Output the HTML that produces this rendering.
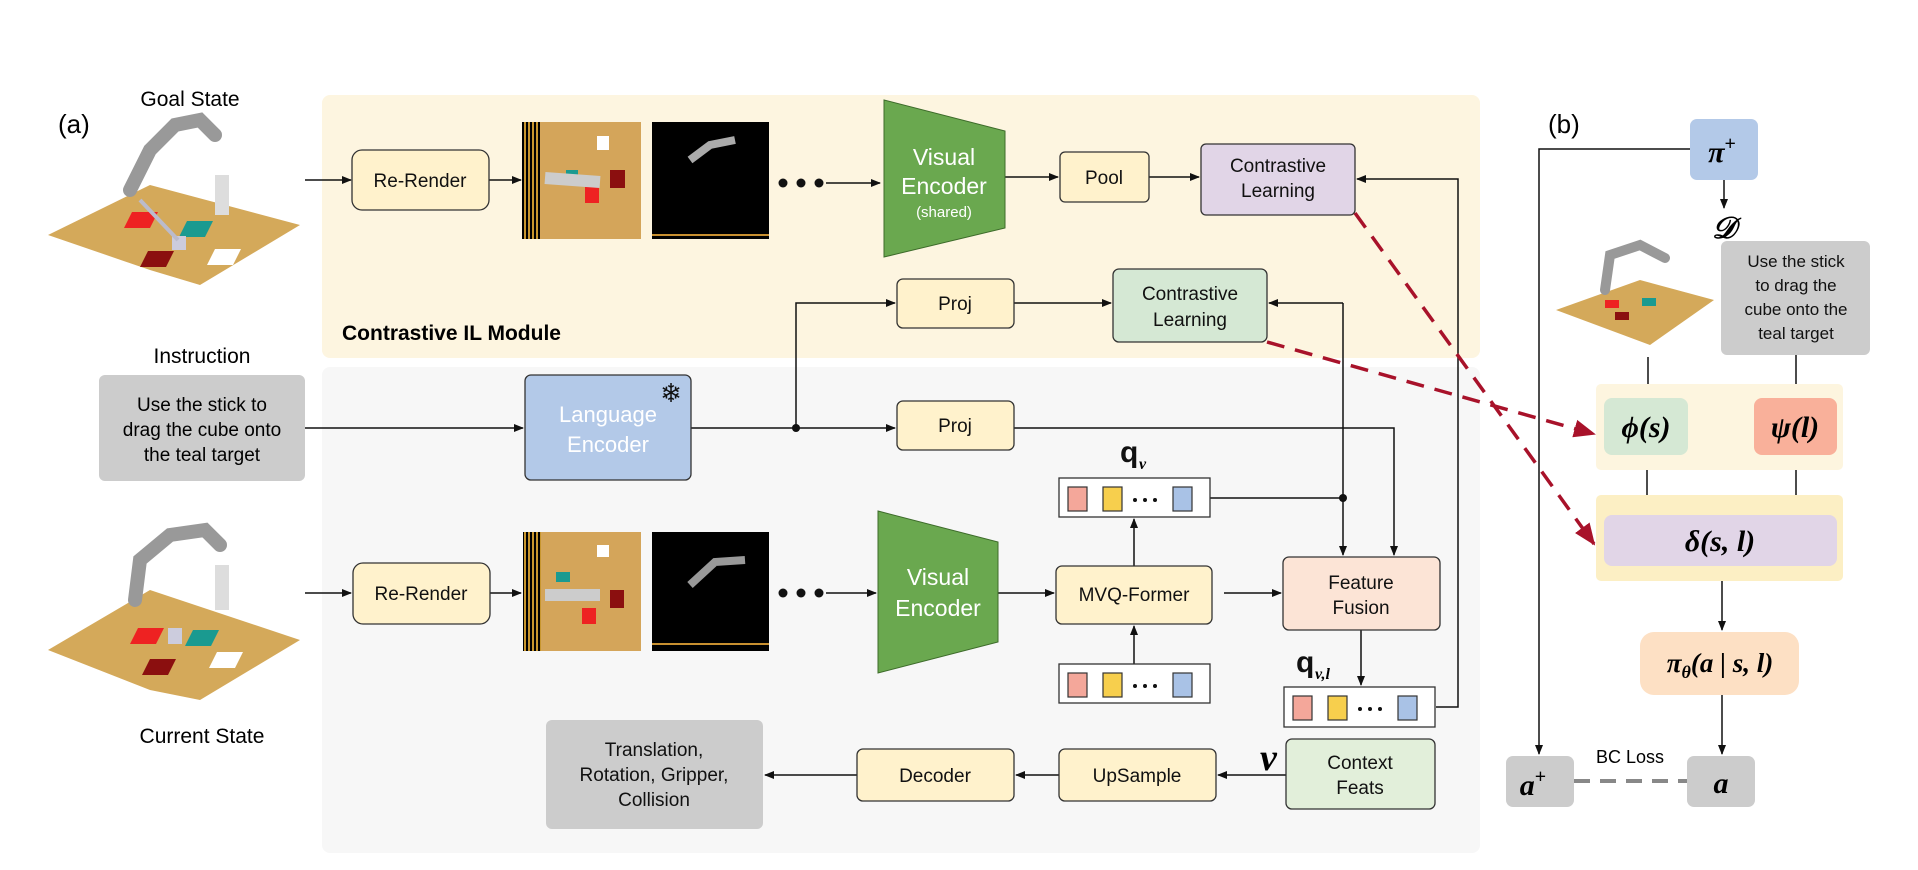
<!DOCTYPE html>
<html><head><meta charset="utf-8">
<style>
html,body{margin:0;padding:0;background:#fff;}
svg{display:block;}
text{font-family:"Liberation Sans",sans-serif;}
.m{font-family:"Liberation Serif",serif;font-style:italic;font-weight:bold;}
</style></head>
<body>
<svg width="1918" height="870" viewBox="0 0 1918 870" xmlns="http://www.w3.org/2000/svg">
<defs>
<marker id="ar" markerWidth="10" markerHeight="10" refX="9" refY="5" orient="auto" markerUnits="userSpaceOnUse"><path d="M0,1 L10,5 L0,9 z" fill="#111"/></marker>
<marker id="rr" markerWidth="22" markerHeight="22" refX="20" refY="11" orient="auto" markerUnits="userSpaceOnUse"><path d="M0,2 L22,11 L0,20 z" fill="#a8122a"/></marker>
<pattern id="hatch" width="4" height="4" patternUnits="userSpaceOnUse"><rect width="4" height="4" fill="#000"/><rect width="2" height="4" fill="#c8962e"/></pattern>
</defs>

<rect x="322" y="95" width="1158" height="263" rx="8" fill="#fdf5e0"/>
<rect x="322" y="367" width="1158" height="486" rx="8" fill="#f7f7f7"/>

<text x="58" y="133" font-family="Liberation Serif" font-size="26">(a)</text>
<text x="1548" y="133" font-family="Liberation Serif" font-size="26">(b)</text>
<text x="190" y="106" font-size="21" text-anchor="middle">Goal State</text>
<text x="202" y="363" font-size="21" text-anchor="middle">Instruction</text>
<text x="202" y="743" font-size="21" text-anchor="middle">Current State</text>
<text x="342" y="340" font-size="21" font-weight="bold">Contrastive IL Module</text>

<!-- goal robot scene -->
<g>
<polygon points="48,235 150,185 300,225 200,285 150,270" fill="#d4a95a"/>
<polygon points="132,212 158,212 150,228 124,228" fill="#e22"/>
<polygon points="187,221 213,221 205,237 179,237" fill="#1a9a90"/>
<polygon points="148,251 174,251 166,267 140,267" fill="#8b0f0f"/>
<polygon points="215,249 241,249 233,265 207,265" fill="#fff"/>
<rect x="172" y="236" width="14" height="14" fill="#ccd"/>
<path d="M130,190 L150,150 L175,125 L200,120 L215,135" stroke="#999" stroke-width="14" fill="none" stroke-linecap="round"/>
<line x1="140" y1="200" x2="178" y2="240" stroke="#bbc" stroke-width="4"/>
<rect x="215" y="175" width="14" height="40" fill="#ddd"/>
</g>
<!-- current robot scene -->
<g>
<polygon points="48,650 150,590 300,640 200,700 150,690" fill="#d4a95a"/>
<polygon points="138,628 164,628 156,644 130,644" fill="#e22"/>
<polygon points="193,630 219,630 211,646 185,646" fill="#1a9a90"/>
<polygon points="150,659 176,659 168,675 142,675" fill="#8b0f0f"/>
<polygon points="217,652 243,652 235,668 209,668" fill="#fff"/>
<rect x="168" y="628" width="14" height="16" fill="#ccd"/>
<path d="M135,600 L140,560 L170,535 L205,530 L220,545" stroke="#999" stroke-width="14" fill="none" stroke-linecap="round"/>
<rect x="215" y="565" width="14" height="45" fill="#ddd"/>
</g>

<rect x="99" y="375" width="206" height="106" rx="6" fill="#cccccc"/>
<text font-size="19" text-anchor="middle"><tspan x="202" y="411">Use the stick to</tspan><tspan x="202" y="436">drag the cube onto</tspan><tspan x="202" y="461">the teal target</tspan></text>

<g stroke="#111" stroke-width="1.5" fill="none">
<line x1="305" y1="180" x2="351" y2="180" marker-end="url(#ar)"/>
<line x1="489" y1="180" x2="521" y2="180" marker-end="url(#ar)"/>
<line x1="826" y1="183" x2="880" y2="183" marker-end="url(#ar)"/>
<line x1="1005" y1="177" x2="1058" y2="177" marker-end="url(#ar)"/>
<line x1="1149" y1="177" x2="1199" y2="177" marker-end="url(#ar)"/>
<polyline points="1436,707 1458,707 1458,179 1357,179" marker-end="url(#ar)"/>
<line x1="305" y1="428" x2="523" y2="428" marker-end="url(#ar)"/>
<line x1="691" y1="428" x2="895" y2="428" marker-end="url(#ar)"/>
<polyline points="796,428 796,303 895,303" marker-end="url(#ar)"/>
<line x1="1014" y1="303" x2="1111" y2="303" marker-end="url(#ar)"/>
<polyline points="1014,428 1394,428 1394,555" marker-end="url(#ar)"/>
<polyline points="1210,498 1343,498"/>
<polyline points="1343,303 1269,303" marker-end="url(#ar)"/>
<line x1="1343" y1="303" x2="1343" y2="555" marker-end="url(#ar)"/>
<line x1="305" y1="593" x2="351" y2="593" marker-end="url(#ar)"/>
<line x1="490" y1="593" x2="521" y2="593" marker-end="url(#ar)"/>
<line x1="826" y1="593" x2="876" y2="593" marker-end="url(#ar)"/>
<line x1="998" y1="593" x2="1054" y2="593" marker-end="url(#ar)"/>
<line x1="1224" y1="593" x2="1281" y2="593" marker-end="url(#ar)"/>
<line x1="1134" y1="566" x2="1134" y2="519" marker-end="url(#ar)"/>
<line x1="1134" y1="664" x2="1134" y2="626" marker-end="url(#ar)"/>
<line x1="1361" y1="630" x2="1361" y2="685" marker-end="url(#ar)"/>
<line x1="1286" y1="775" x2="1218" y2="775" marker-end="url(#ar)"/>
<line x1="1059" y1="775" x2="1016" y2="775" marker-end="url(#ar)"/>
<line x1="857" y1="775" x2="765" y2="775" marker-end="url(#ar)"/>
<polyline points="1690,149 1539,149 1539,754" marker-end="url(#ar)"/>
<line x1="1724" y1="180" x2="1724" y2="208" marker-end="url(#ar)"/>
<line x1="1648" y1="357" x2="1648" y2="396" marker-end="url(#ar)"/>
<line x1="1796" y1="355" x2="1796" y2="396" marker-end="url(#ar)"/>
<line x1="1647" y1="455" x2="1647" y2="513" marker-end="url(#ar)"/>
<line x1="1796" y1="455" x2="1796" y2="513" marker-end="url(#ar)"/>
<line x1="1722" y1="566" x2="1722" y2="630" marker-end="url(#ar)"/>
<line x1="1722" y1="695" x2="1722" y2="754" marker-end="url(#ar)"/>
</g>
<circle cx="796" cy="428" r="4" fill="#111"/>
<circle cx="1343" cy="498" r="4" fill="#111"/>
<line x1="1574" y1="781" x2="1687" y2="781" stroke="#888" stroke-width="4" stroke-dasharray="16,10"/>

<g fill="#111"><circle cx="783" cy="183" r="4.5"/><circle cx="801" cy="183" r="4.5"/><circle cx="819" cy="183" r="4.5"/>
<circle cx="783" cy="593" r="4.5"/><circle cx="801" cy="593" r="4.5"/><circle cx="819" cy="593" r="4.5"/></g>

<rect x="522" y="122" width="119" height="117" fill="#d4a55a"/>
<rect x="522" y="122" width="18" height="117" fill="url(#hatch)"/>
<rect x="597" y="136" width="12" height="14" fill="#fff"/>
<rect x="585" y="187" width="14" height="16" fill="#e22"/>
<rect x="610" y="170" width="15" height="18" fill="#8b0f0f"/>
<rect x="566" y="170" width="12" height="9" fill="#1a9a90"/>
<path d="M545,178 L600,182" stroke="#ccc" stroke-width="12"/>
<rect x="652" y="122" width="117" height="117" fill="#000"/>
<path d="M690,160 L710,145 L735,140" stroke="#aaa" stroke-width="8" fill="none"/>
<line x1="652" y1="235" x2="769" y2="235" stroke="#c89030" stroke-width="2"/>
<rect x="523" y="532" width="118" height="119" fill="#d4a55a"/>
<rect x="523" y="532" width="18" height="119" fill="url(#hatch)"/>
<rect x="597" y="545" width="12" height="12" fill="#fff"/>
<rect x="582" y="608" width="14" height="16" fill="#e22"/>
<rect x="610" y="590" width="14" height="18" fill="#8b0f0f"/>
<rect x="556" y="572" width="14" height="10" fill="#1a9a90"/>
<path d="M545,595 L600,595" stroke="#ccc" stroke-width="12"/>
<rect x="652" y="532" width="117" height="119" fill="#000"/>
<path d="M690,585 L715,562 L745,560" stroke="#999" stroke-width="8" fill="none"/>
<line x1="652" y1="644" x2="769" y2="644" stroke="#c89030" stroke-width="2"/>

<g stroke="#333" stroke-width="1.3">
<rect x="352" y="150" width="137" height="60" rx="10" fill="#fff2cc"/>
<rect x="1060" y="152" width="89" height="50" rx="5" fill="#fff2cc"/>
<rect x="1201" y="144" width="154" height="71" rx="5" fill="#e1d5e7"/>
<rect x="897" y="279" width="117" height="49" rx="6" fill="#fff2cc"/>
<rect x="1113" y="269" width="154" height="73" rx="6" fill="#d5e8d4"/>
<rect x="525" y="375" width="166" height="105" rx="6" fill="#b3c9e8"/>
<rect x="897" y="401" width="117" height="49" rx="6" fill="#fff2cc"/>
<rect x="353" y="563" width="137" height="61" rx="10" fill="#fff2cc"/>
<rect x="1056" y="566" width="156" height="58" rx="6" fill="#fff2cc"/>
<rect x="1283" y="557" width="157" height="73" rx="6" fill="#fce4d6"/>
<rect x="1286" y="739" width="149" height="70" rx="6" fill="#e2efda"/>
<rect x="1059" y="749" width="157" height="52" rx="6" fill="#fff2cc"/>
<rect x="857" y="749" width="157" height="52" rx="6" fill="#fff2cc"/>
<rect x="1059" y="478" width="151" height="39" fill="#fff"/>
<rect x="1059" y="664" width="151" height="39" fill="#fff"/>
<rect x="1284" y="687" width="151" height="40" fill="#fff"/>
</g>
<g stroke="#333" stroke-width="1.2">
<rect x="1068" y="487" width="19" height="24" fill="#f4a79a"/><rect x="1103" y="487" width="19" height="24" fill="#f7cf4d"/><rect x="1173" y="487" width="19" height="24" fill="#a9c2e6"/>
<rect x="1068" y="673" width="19" height="24" fill="#f4a79a"/><rect x="1103" y="673" width="19" height="24" fill="#f7cf4d"/><rect x="1173" y="673" width="19" height="24" fill="#a9c2e6"/>
<rect x="1293" y="696" width="19" height="24" fill="#f4a79a"/><rect x="1328" y="696" width="19" height="24" fill="#f7cf4d"/><rect x="1398" y="696" width="19" height="24" fill="#a9c2e6"/>
</g>
<g fill="#111"><circle cx="1135" cy="500" r="2"/><circle cx="1145" cy="500" r="2"/><circle cx="1155" cy="500" r="2"/>
<circle cx="1135" cy="686" r="2"/><circle cx="1145" cy="686" r="2"/><circle cx="1155" cy="686" r="2"/>
<circle cx="1360" cy="709" r="2"/><circle cx="1370" cy="709" r="2"/><circle cx="1380" cy="709" r="2"/></g>
<rect x="546" y="720" width="217" height="109" rx="6" fill="#cccccc"/>

<polygon points="884,100 1005,131 1005,228 884,257" fill="#6aa84f" stroke="#3d6b2a" stroke-width="1"/>
<polygon points="878,511 998,542 998,642 878,673" fill="#6aa84f" stroke="#3d6b2a" stroke-width="1"/>

<g font-size="19" text-anchor="middle" fill="#111">
<text x="420" y="187">Re-Render</text>
<text x="1104" y="184">Pool</text>
<text x="1278" y="172">Contrastive</text><text x="1278" y="197">Learning</text>
<text x="955" y="310">Proj</text>
<text x="1190" y="300">Contrastive</text><text x="1190" y="326">Learning</text>
<text x="955" y="432">Proj</text>
<text x="421" y="600">Re-Render</text>
<text x="1134" y="601">MVQ-Former</text>
<text x="1361" y="589">Feature</text><text x="1361" y="614">Fusion</text>
<text x="1360" y="769">Context</text><text x="1360" y="794">Feats</text>
<text x="1137" y="782">UpSample</text>
<text x="935" y="782">Decoder</text>
<text x="654" y="756">Translation,</text><text x="654" y="781">Rotation, Gripper,</text><text x="654" y="806">Collision</text>
</g>
<g fill="#fff" text-anchor="middle">
<text x="944" y="165" font-size="23">Visual</text><text x="944" y="194" font-size="23">Encoder</text><text x="944" y="217" font-size="15">(shared)</text>
<text x="938" y="585" font-size="23">Visual</text><text x="938" y="616" font-size="23">Encoder</text>
<text x="608" y="422" font-size="22">Language</text><text x="608" y="452" font-size="22">Encoder</text>
</g>
<text x="671" y="402" font-size="26" fill="#111" text-anchor="middle">❄</text>
<text x="1120" y="462" font-size="30" font-weight="bold" fill="#111">q</text><text x="1139" y="469" class="m" font-size="16">v</text>
<text x="1296" y="672" font-size="30" font-weight="bold" fill="#111">q</text><text x="1315" y="679" class="m" font-size="16">v,l</text>
<text x="1260" y="770" class="m" font-size="38" font-weight="normal">ν</text>

<rect x="1690" y="119" width="68" height="61" rx="7" fill="#b3c9e8"/>
<text x="1722" y="162" class="m" font-size="30" text-anchor="middle">π<tspan font-size="20" dy="-12" font-style="normal">+</tspan></text>
<text x="1724" y="238" class="m" font-size="30" font-weight="normal" text-anchor="middle">𝒟</text>
<g>
<polygon points="1556,310 1640,280 1714,300 1650,345" fill="#d4a95a"/>
<rect x="1605" y="300" width="14" height="8" fill="#e22"/><rect x="1642" y="298" width="14" height="8" fill="#1a9a90"/><rect x="1615" y="312" width="14" height="8" fill="#8b0f0f"/>
<path d="M1605,290 L1610,255 L1640,245 L1665,258" stroke="#999" stroke-width="10" fill="none" stroke-linecap="round"/>
</g>
<rect x="1721" y="241" width="149" height="114" rx="6" fill="#cccccc"/>
<text font-size="17" text-anchor="middle" fill="#111"><tspan x="1796" y="267">Use the stick</tspan><tspan x="1796" y="291">to drag the</tspan><tspan x="1796" y="315">cube onto the</tspan><tspan x="1796" y="339">teal target</tspan></text>
<rect x="1596" y="384" width="247" height="86" rx="5" fill="#fdf5df"/>
<rect x="1604" y="398" width="84" height="57" rx="8" fill="#d5e8d4"/>
<rect x="1754" y="398" width="83" height="57" rx="8" fill="#f9b09a"/>
<text x="1646" y="437" class="m" font-size="30" text-anchor="middle">ϕ(s)</text>
<text x="1795" y="437" class="m" font-size="30" text-anchor="middle">ψ(l)</text>
<rect x="1596" y="495" width="247" height="86" rx="5" fill="#fcefc4"/>
<rect x="1604" y="515" width="233" height="51" rx="8" fill="#e1d5e7"/>
<text x="1720" y="551" class="m" font-size="30" text-anchor="middle">δ(s, l)</text>
<rect x="1640" y="632" width="159" height="63" rx="14" fill="#fde0c4"/>
<text x="1720" y="672" class="m" font-size="27" text-anchor="middle">π<tspan font-size="18" dy="6">θ</tspan><tspan dy="-6">(a | s, l)</tspan></text>
<rect x="1506" y="756" width="68" height="51" rx="7" fill="#cccccc"/>
<rect x="1687" y="756" width="68" height="51" rx="7" fill="#cccccc"/>
<text x="1533" y="795" class="m" font-size="30" text-anchor="middle">a<tspan font-size="20" dy="-12" font-style="normal">+</tspan></text>
<text x="1721" y="793" class="m" font-size="30" text-anchor="middle">a</text>
<text x="1630" y="763" font-size="18" text-anchor="middle">BC Loss</text>

<line x1="1355" y1="213" x2="1594" y2="544" stroke="#a8122a" stroke-width="3.5" stroke-dasharray="18,11" marker-end="url(#rr)"/>
<line x1="1267" y1="342" x2="1594" y2="434" stroke="#a8122a" stroke-width="3.5" stroke-dasharray="18,11" marker-end="url(#rr)"/>
</svg>
</body></html>
